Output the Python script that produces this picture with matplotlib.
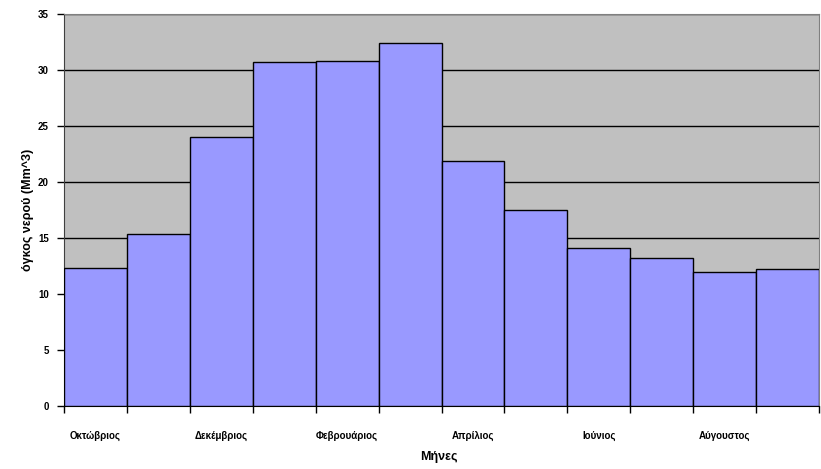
import numpy as np
import matplotlib.pyplot as plt

plt.rcParams.update({
    'font.family': ['Liberation Sans', 'DejaVu Sans'],
    'font.weight': 'bold',
})

months = ['Οκτώβριος', 'Νοέμβριος', 'Δεκέμβριος', 'Ιανουάριος', 'Φεβρουάριος', 'Μάρτιος',
          'Απρίλιος', 'Μάιος', 'Ιούνιος', 'Ιούλιος', 'Αύγουστος', 'Σεπτέμβριος']
volume = [12.3, 15.35, 24.0, 30.7, 30.8, 32.4, 21.85, 17.5, 14.1, 13.2, 11.95, 12.2]

fig = plt.figure(figsize=(8.21, 4.69), dpi=100)
ax = fig.add_axes([64 / 821, 63 / 469, 755 / 821, 392 / 469])
ax.set_facecolor('#C0C0C0')

x = np.arange(len(months))
ax.bar(x, volume, width=1.0, color='#9999FF', edgecolor='black', linewidth=1.0, zorder=3)

ax.set_xlim(-0.5, len(months) - 0.5)
ax.set_ylim(0, 35)
ax.set_yticks(np.arange(0, 36, 5))
ax.yaxis.grid(True, color='black', linewidth=1.0, zorder=1)
ax.set_axisbelow(True)

# major ticks on the bar edges, labels on every second month
ax.set_xticks(np.arange(-0.5, len(months), 1.0))
ax.set_xticklabels([])
ax.set_xticks(x[::2], minor=True)
ax.set_xticklabels(months[::2], minor=True, fontsize=7, fontweight='bold')
ax.tick_params(axis='x', which='major', direction='out', length=5, width=1, color='black')
ax.tick_params(axis='x', which='minor', length=0, pad=18)
ax.tick_params(axis='y', direction='out', length=5, width=1, labelsize=7, pad=6)
for lab in ax.get_yticklabels():
    lab.set_fontweight('bold')

ax.spines['bottom'].set_color('black')
ax.spines['left'].set_color('#404040')
ax.spines['top'].set_color('#808080')
ax.spines['right'].set_color('#808080')

ax.set_xlabel('Μήνες', fontsize=9, fontweight='bold')
ax.set_ylabel('όγκος νερού (Mm^3)', fontsize=9, fontweight='bold')
ax.xaxis.set_label_coords((439 - 64) / 755, -45 / 392)
ax.yaxis.set_label_coords(-30 / 755, 0.5)

fig.savefig('out.png', dpi=100)
